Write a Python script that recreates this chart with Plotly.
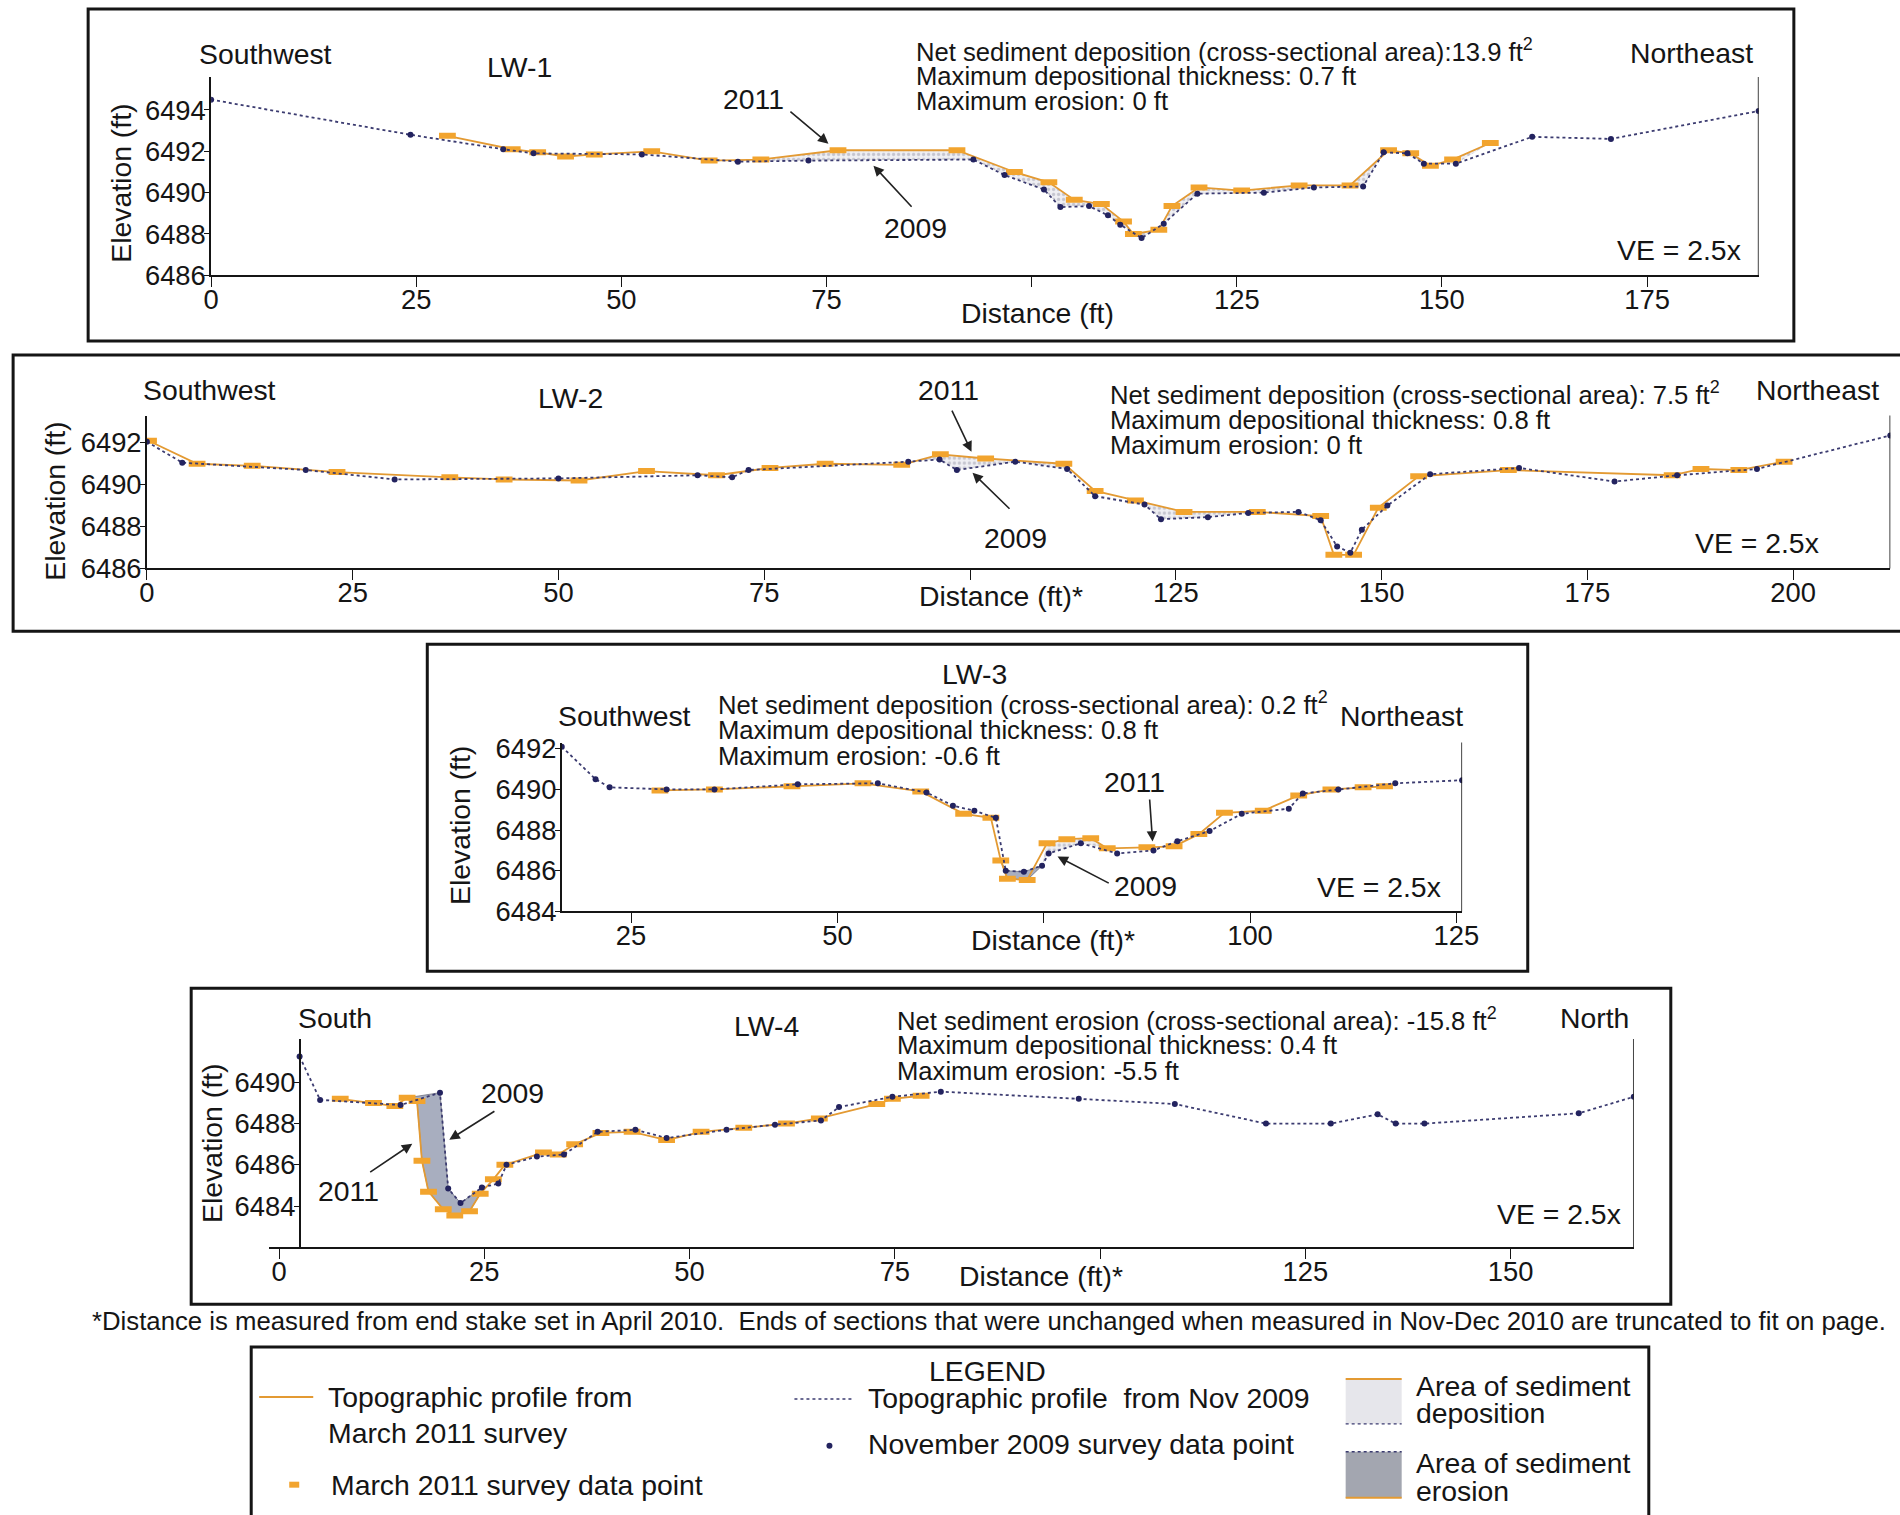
import plotly.graph_objects as go

# ---------------- survey data (distance ft, elevation ft) ----------------
# LW-1
lw1_x09 = [0, 24.3, 35.6, 39.3, 52.5, 64.2, 72.8, 92.9, 96.7, 101.5, 103.5, 107, 109.3, 110.8, 113.4,
           116.1, 120.2, 128.3, 134.4, 140.4, 142.9, 145.8, 147.8, 151.7, 161, 170.6, 188.6]
lw1_y09 = [6494.5, 6492.8, 6492.1, 6491.9, 6491.85, 6491.5, 6491.55, 6491.6, 6490.85, 6490.15, 6489.3,
           6489.35, 6488.9, 6488.45, 6487.8, 6488.5, 6489.95, 6490.0, 6490.25, 6490.3, 6491.95, 6491.9,
           6491.4, 6491.4, 6492.7, 6492.6, 6493.95]
lw1_x11 = [28.8, 36.7, 39.8, 43.2, 46.7, 53.7, 60.7, 67, 76.4, 90.9, 97.9, 102.1, 105.2, 108.5, 111.2,
           112.4, 115.5, 117.1, 120.4, 125.6, 132.6, 138.8, 143.5, 146.2, 148.6, 151.3, 155.9]
lw1_y11 = [6492.75, 6492.1, 6491.95, 6491.75, 6491.85, 6492.0, 6491.55, 6491.6, 6492.05, 6492.05, 6491.0,
           6490.5, 6489.65, 6489.45, 6488.6, 6488.0, 6488.2, 6489.35, 6490.25, 6490.1, 6490.35, 6490.35,
           6492.05, 6491.9, 6491.3, 6491.6, 6492.4]

# LW-2
lw2_x09 = [0, 4.3, 19.3, 30.1, 50, 66.9, 71.1, 73.1, 92.5, 96.3, 98.4, 105.5, 111.8, 115.2, 121.2, 123.2,
           128.9, 133.8, 139.9, 142.6, 144.6, 146.2, 147.6, 150.7, 155.9, 166.7, 178.3, 185.9, 195.6, 211.8]
lw2_y09 = [6492.05, 6491.05, 6490.7, 6490.25, 6490.3, 6490.45, 6490.35, 6490.7, 6491.1, 6491.2, 6490.7,
           6491.1, 6490.75, 6489.45, 6489.05, 6488.35, 6488.45, 6488.65, 6488.7, 6488.3, 6487.05, 6486.75,
           6487.85, 6489.0, 6490.5, 6490.8, 6490.15, 6490.45, 6490.75, 6492.35]
lw2_x11 = [0.2, 6.1, 12.8, 23.1, 36.8, 43.4, 52.5, 60.7, 69.2, 75.7, 82.4, 91.7, 96.4, 101.9, 111.4,
           115.2, 120.1, 126, 134.9, 142.6, 144.2, 146.6, 149.6, 154.5, 165.4, 185.3, 188.8, 193.4, 198.9]
lw2_y11 = [6492.1, 6491.0, 6490.9, 6490.6, 6490.35, 6490.25, 6490.2, 6490.65, 6490.45, 6490.8, 6491.0,
           6490.95, 6491.45, 6491.25, 6491.0, 6489.7, 6489.25, 6488.7, 6488.7, 6488.5, 6486.65, 6486.65,
           6488.9, 6490.4, 6490.7, 6490.45, 6490.75, 6490.7, 6491.1]

# LW-3
lw3_x09 = [16.6, 20.7, 22.4, 29.3, 35.1, 45.2, 54.9, 60.8, 64.0, 66.6, 69.2, 70.4, 72.6, 74.8, 75.6,
           79.5, 83.9, 88.3, 91.2, 95.1, 99.0, 104.7, 106.4, 110.7, 117.6, 125.7]
lw3_y09 = [6492.1, 6490.5, 6490.1, 6490.0, 6490.0, 6490.25, 6490.3, 6489.85, 6489.2, 6488.95, 6488.6,
           6486.0, 6485.95, 6486.25, 6486.85, 6487.35, 6486.85, 6487.0, 6487.45, 6487.95, 6488.8,
           6489.05, 6489.8, 6490.0, 6490.3, 6490.45]
lw3_x11 = [28.5, 35.1, 44.5, 53.1, 60.1, 65.3, 68.6, 69.8, 70.6, 73.0, 75.4, 77.8, 80.7, 82.7, 87.5,
           90.8, 93.8, 96.9, 101.6, 105.9, 109.8, 113.7, 116.3]
lw3_y11 = [6489.95, 6490.0, 6490.15, 6490.3, 6489.9, 6488.8, 6488.6, 6486.5, 6485.6, 6485.55, 6487.35,
           6487.55, 6487.6, 6487.1, 6487.15, 6487.2, 6487.8, 6488.85, 6488.95, 6489.7, 6490.0, 6490.1,
           6490.15]

# LW-4
lw4_x09 = [2.5, 5.0, 14.8, 19.6, 20.6, 22.1, 24.7, 26.7, 27.7, 31.4, 34.7, 38.8, 43.4, 47.2, 54.5, 60.4,
           66, 68.2, 74.7, 80.6, 97.4, 109.1, 120.2, 128.1, 133.8, 136, 139.5, 158.3, 165]
lw4_y09 = [6491.25, 6489.15, 6488.9, 6489.5, 6484.85, 6484.15, 6484.9, 6485.1, 6486.0, 6486.4, 6486.5,
           6487.6, 6487.7, 6487.3, 6487.7, 6487.95, 6488.15, 6488.8, 6489.3, 6489.55, 6489.2, 6488.95,
           6488.0, 6488.0, 6488.45, 6488.0, 6488.0, 6488.5, 6489.3]
lw4_x11 = [7.45, 11.5, 14.1, 15.6, 16.8, 17.4, 18.2, 20.0, 21.4, 23.2, 24.5, 26.1, 27.5, 32.2, 34.0,
           36.0, 39.2, 43.0, 47.2, 51.4, 56.6, 61.8, 65.8, 72.8, 74.7, 78.2]
lw4_y11 = [6489.2, 6489.0, 6488.85, 6489.25, 6489.1, 6486.2, 6484.7, 6483.85, 6483.55, 6483.75, 6484.6,
           6485.3, 6486.0, 6486.6, 6486.5, 6487.0, 6487.55, 6487.6, 6487.2, 6487.6, 6487.8, 6488.0,
           6488.25, 6488.95, 6489.2, 6489.35]

# tick values
lw1_xticks = [0, 25, 50, 75, 100, 125, 150, 175]
lw2_xticks = [0, 25, 50, 75, 100, 125, 150, 175, 200]
lw3_xticks = [25, 50, 75, 100, 125]
lw4_xticks = [0, 25, 50, 75, 100, 125, 150]
lw1_yticks = [6486, 6488, 6490, 6492, 6494]
lw2_yticks = [6486, 6488, 6490, 6492]
lw3_yticks = [6484, 6486, 6488, 6490, 6492]
lw4_yticks = [6484, 6486, 6488, 6490]

# ---------------- page geometry ----------------
# Layout positions below are given in sheet pixels (1900 x 1515 sheet).  The page is
# displayed at a slight reduction (K) and the body keeps its default 8 px margin.
SHEET_W, SHEET_H = 1900, 1515
K = 0.9865
OFF = 8
W = round(SHEET_W / K) - 2 * OFF
H = round(SHEET_H / K) - 2 * OFF
FONT = "Liberation Sans, Arial, sans-serif"
INK = "#151515"
C11_LINE = "#E39A33"
C11_MARK = "#F2A42E"
C09 = "#23235F"
NOTE = 25.3


def s(v):
    """sheet pixels -> figure pixels"""
    return v / K


def px(x):
    """sheet column -> paper fraction"""
    return (x / K - OFF) / W


def py(y):
    """sheet row -> paper fraction"""
    return 1 - (y / K - OFF) / H


def band(xa, ya, xb, yb, lo, hi):
    """Closed polygon between two profiles over a distance interval."""
    pa = [(x, y) for x, y in zip(xa, ya) if lo <= x <= hi]
    pb = [(x, y) for x, y in zip(xb, yb) if lo <= x <= hi][::-1]
    pts = pa + pb + [pa[0]]
    return [p[0] for p in pts], [p[1] for p in pts]


panels = [
    dict(n=1, x09=lw1_x09, y09=lw1_y09, x11=lw1_x11, y11=lw1_y11,
         xdom=(210.9, 1757.8), ydom=(76, 275), xr=(0, 188.6), yr=(6486, 6495.6),
         xt=lw1_xticks, yt=lw1_yticks, blank=100, ypos=None,
         dep=[(60, 156)], ero=[]),
    dict(n=2, x09=lw2_x09, y09=lw2_y09, x11=lw2_x11, y11=lw2_y11,
         xdom=(146.7, 1889.4), ydom=(415.7, 569), xr=(0, 211.8), yr=(6486, 6493.3),
         xt=lw2_xticks, yt=lw2_yticks, blank=100, ypos=None,
         dep=[(91.5, 112), (119, 141)], ero=[]),
    dict(n=3, x09=lw3_x09, y09=lw3_y09, x11=lw3_x11, y11=lw3_y11,
         xdom=(561.4, 1461.4), ydom=(743.7, 913), xr=(16.6, 125.7), yr=(6484, 6492.3),
         xt=lw3_xticks, yt=lw3_yticks, blank=75, ypos=None,
         dep=[(74.8, 83)], ero=[(69.5, 74.9)]),
    dict(n=4, x09=lw4_x09, y09=lw4_y09, x11=lw4_x11, y11=lw4_y11,
         xdom=(269, 1633), ydom=(1041, 1250), xr=(-1.2, 165), yr=(6482, 6492.1),
         xt=lw4_xticks, yt=lw4_yticks, blank=100, ypos=299.5,
         dep=[], ero=[(15.6, 24.7)]),
]

fig = go.Figure()
shapes = []
annotations = []
layout_axes = {}
tickfont = dict(size=s(27), family=FONT, color=INK)

for p in panels:
    n = p["n"]
    key = "" if n == 1 else str(n)
    xa, ya = f"x{key}", f"y{key}"
    # deposition areas
    for lo, hi in p["dep"]:
        bx, by = band(p["x11"], p["y11"], p["x09"], p["y09"], lo, hi)
        fig.add_trace(go.Scatter(x=bx, y=by, xaxis=xa, yaxis=ya, mode="lines", fill="toself",
                                 fillcolor="#e9e9ee", line=dict(width=0),
                                 fillpattern=dict(shape=".", fgcolor="#9c9cab", bgcolor="#efeff3",
                                                  size=5, solidity=0.35),
                                 hoverinfo="skip"))
    # erosion areas
    for lo, hi in p["ero"]:
        bx, by = band(p["x11"], p["y11"], p["x09"], p["y09"], lo, hi)
        fig.add_trace(go.Scatter(x=bx, y=by, xaxis=xa, yaxis=ya, mode="lines", fill="toself",
                                 fillcolor="#a8aebf", line=dict(width=0.8, color="#6d7080"),
                                 hoverinfo="skip"))
    # March 2011 profile
    fig.add_trace(go.Scatter(x=p["x11"], y=p["y11"], xaxis=xa, yaxis=ya, mode="lines+markers",
                             line=dict(color=C11_LINE, width=1.8),
                             marker=dict(symbol="line-ew", size=12,
                                         line=dict(width=6, color=C11_MARK)),
                             name="Topographic profile from March 2011 survey"))
    # November 2009 profile
    fig.add_trace(go.Scatter(x=p["x09"], y=p["y09"], xaxis=xa, yaxis=ya, mode="lines+markers",
                             line=dict(color="#3b3b70", width=1.8, dash="dot"),
                             marker=dict(symbol="circle", size=6, color=C09),
                             name="Topographic profile from Nov 2009"))

    x0, x1 = p["xdom"]
    yt, yb = p["ydom"]
    layout_axes[f"xaxis{key}"] = dict(
        domain=[px(x0), px(x1)], range=list(p["xr"]), anchor=ya,
        showline=True, linecolor=INK, linewidth=1.6, showgrid=False, zeroline=False,
        ticks="outside", ticklen=10, tickwidth=1.4, tickcolor=INK, ticklabelstandoff=-11,
        tickvals=p["xt"], ticktext=["" if v == p["blank"] else str(v) for v in p["xt"]],
        tickfont=tickfont, fixedrange=True)
    ycfg = dict(
        domain=[py(yb), py(yt)], range=list(p["yr"]), anchor=xa,
        showline=True, linecolor=INK, linewidth=1.6, showgrid=False, zeroline=False,
        ticks="outside", ticklen=5, tickwidth=1.4, tickcolor=INK, ticklabelstandoff=-7,
        tickvals=p["yt"], ticktext=[str(v) for v in p["yt"]],
        tickfont=tickfont, fixedrange=True)
    if p["ypos"] is not None:
        ycfg["anchor"] = "free"
        ycfg["position"] = px(p["ypos"])
    layout_axes[f"yaxis{key}"] = ycfg
    # right-hand end line of the section
    shapes.append(dict(type="line", xref=xa, yref=f"{ya} domain", x0=p["xr"][1], x1=p["xr"][1],
                       y0=0, y1=1, line=dict(color=INK, width=1.6)))

# panel frames
for (l, t, r, b) in [(88, 8, 1793, 341), (13, 355, 1910, 632), (427, 645, 1527, 973),
                     (191, 990, 1670, 1307), (251, 1350, 1648, 1530)]:
    shapes.append(dict(type="rect", xref="paper", yref="paper", x0=px(l), x1=px(r),
                       y0=py(b), y1=py(t), line=dict(color=INK, width=3)))


def text(x, y, txt, size=28, anchor="center", angle=0):
    annotations.append(dict(x=px(x), y=py(y), xref="paper", yref="paper", text=txt,
                            showarrow=False, xanchor=anchor, yanchor="middle", textangle=angle,
                            font=dict(size=s(size), family=FONT, color=INK)))


def arrow(x0, y0, x1, y1):
    annotations.append(dict(x=px(x1), y=py(y1), xref="paper", yref="paper", text="",
                            ax=s(x0 - x1), ay=s(y0 - y1), axref="pixel", ayref="pixel",
                            showarrow=True, arrowhead=2, arrowsize=1.3, arrowwidth=1.6,
                            arrowcolor="#222"))


# LW-1 labels
text(265, 53, "Southwest")
text(519, 66, "LW-1")
text(1691, 52, "Northeast")
text(1678, 250, "VE = 2.5x")
text(914, 49, "Net sediment deposition (cross-sectional area):13.9 ft<sup>2</sup>", NOTE, "left")
text(914, 75, "Maximum depositional thickness: 0.7 ft", NOTE, "left")
text(914, 100, "Maximum erosion: 0 ft", NOTE, "left")
text(753, 98, "2011")
text(915, 228, "2009")
arrow(789, 110, 828, 143)
arrow(912, 207, 873, 165)
text(1037, 313, "Distance (ft)")
text(120, 183, "Elevation (ft)", angle=-90)

# LW-2 labels
text(209, 390, "Southwest")
text(570, 398, "LW-2")
text(1817, 390, "Northeast")
text(1756, 543, "VE = 2.5x")
text(1107, 393, "Net sediment deposition (cross-sectional area): 7.5 ft<sup>2</sup>", NOTE, "left")
text(1107, 420, "Maximum depositional thickness: 0.8 ft", NOTE, "left")
text(1107, 445, "Maximum erosion: 0 ft", NOTE, "left")
text(948, 390, "2011")
text(1015, 538, "2009")
arrow(951, 410, 971, 452)
arrow(1010, 510, 972, 473)
text(1000, 597, "Distance (ft)*")
text(55, 502, "Elevation (ft)", angle=-90)

# LW-3 labels
text(974, 675, "LW-3")
text(624, 717, "Southwest")
text(1401, 717, "Northeast")
text(716, 704, "Net sediment deposition (cross-sectional area): 0.2 ft<sup>2</sup>", NOTE, "left")
text(716, 731, "Maximum depositional thickness: 0.8 ft", NOTE, "left")
text(716, 757, "Maximum erosion: -0.6 ft", NOTE, "left")
text(1134, 783, "2011")
text(1145, 888, "2009")
arrow(1149, 800, 1152, 843)
arrow(1109, 885, 1057, 858)
text(1378, 889, "VE = 2.5x")
text(1052, 942, "Distance (ft)*")
text(459, 827, "Elevation (ft)", angle=-90)

# LW-4 labels
text(335, 1020, "South")
text(766, 1028, "LW-4")
text(1594, 1020, "North")
text(895, 1021, "Net sediment erosion (cross-sectional area): -15.8 ft<sup>2</sup>", NOTE, "left")
text(895, 1047, "Maximum depositional thickness: 0.4 ft", NOTE, "left")
text(895, 1073, "Maximum erosion: -5.5 ft", NOTE, "left")
text(512, 1095, "2009")
text(348, 1193, "2011")
arrow(495, 1113, 449, 1142)
arrow(369, 1175, 412, 1146)
text(1558, 1217, "VE = 2.5x")
text(1040, 1279, "Distance (ft)*")
text(212, 1146, "Elevation (ft)", angle=-90)

# footnote
text(988, 1324, "*Distance is measured from end stake set in April 2010.  Ends of sections that were "
                "unchanged when measured in Nov-Dec 2010 are truncated to fit on page.", 25.4)

# legend panel
text(987, 1374, "LEGEND")
shapes.append(dict(type="line", xref="paper", yref="paper", x0=px(259), x1=px(313), y0=py(1400),
                   y1=py(1400), line=dict(color=C11_LINE, width=2)))
text(326, 1400, "Topographic profile from", 28, "left")
text(326, 1436, "March 2011 survey", 28, "left")
shapes.append(dict(type="rect", xref="paper", yref="paper", x0=px(289), x1=px(299), y0=py(1491),
                   y1=py(1485), fillcolor=C11_MARK, line=dict(width=0)))
text(329, 1488, "March 2011 survey data point", 28, "left")
shapes.append(dict(type="line", xref="paper", yref="paper", x0=px(794), x1=px(853), y0=py(1402),
                   y1=py(1402), line=dict(color="#3b3b70", width=1.6, dash="dot")))
text(866, 1401, "Topographic profile  from Nov 2009", 28, "left")
shapes.append(dict(type="circle", xref="paper", yref="paper", x0=px(826), x1=px(832), y0=py(1452),
                   y1=py(1446), fillcolor=C09, line=dict(width=0)))
text(866, 1447, "November 2009 survey data point", 28, "left")
# deposition swatch
shapes.append(dict(type="rect", xref="paper", yref="paper", x0=px(1345), x1=px(1401), y0=py(1427),
                   y1=py(1382), fillcolor="#e6e6eb", line=dict(width=0)))
shapes.append(dict(type="line", xref="paper", yref="paper", x0=px(1345), x1=px(1401), y0=py(1382),
                   y1=py(1382), line=dict(color=C11_LINE, width=2)))
shapes.append(dict(type="line", xref="paper", yref="paper", x0=px(1345), x1=px(1401), y0=py(1427),
                   y1=py(1427), line=dict(color="#3b3b70", width=1.4, dash="dot")))
text(1413, 1389, "Area of sediment", 28, "left")
text(1413, 1416, "deposition", 28, "left")
# erosion swatch
shapes.append(dict(type="rect", xref="paper", yref="paper", x0=px(1345), x1=px(1401), y0=py(1501),
                   y1=py(1455), fillcolor="#a3a6b0", line=dict(width=0)))
shapes.append(dict(type="line", xref="paper", yref="paper", x0=px(1345), x1=px(1401), y0=py(1455),
                   y1=py(1455), line=dict(color="#3b3b70", width=1.4, dash="dot")))
shapes.append(dict(type="line", xref="paper", yref="paper", x0=px(1345), x1=px(1401), y0=py(1501),
                   y1=py(1501), line=dict(color=C11_LINE, width=2)))
text(1413, 1466, "Area of sediment", 28, "left")
text(1413, 1494, "erosion", 28, "left")

fig.update_layout(width=W, height=H, margin=dict(l=0, r=0, t=0, b=0),
                  paper_bgcolor="white", plot_bgcolor="rgba(0,0,0,0)", showlegend=False,
                  shapes=shapes, annotations=annotations, **layout_axes)

fig.write_html("out.html")
